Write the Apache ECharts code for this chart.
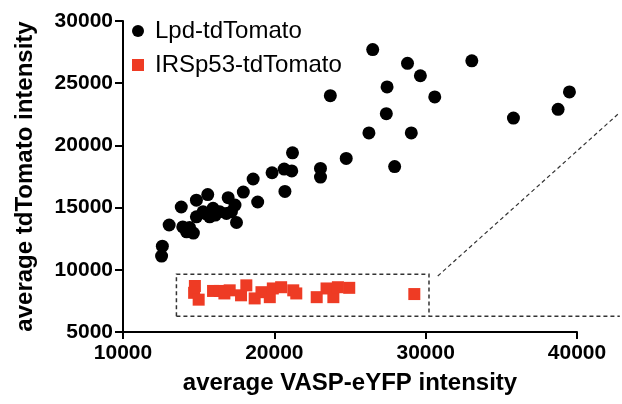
<!DOCTYPE html>
<html lang="en">
  <head>
    <meta charset="UTF-8" />
    <title>VASP vs tdTomato</title>
    <style>
      html, body { margin: 0; padding: 0; background: #fff; }
      #main { width: 622px; height: 404px; }
    </style>
  </head>
  <body>
    <div id="main"></div>
    <script src="https://cdn.jsdelivr.net/npm/echarts@6/dist/echarts.min.js"></script>
    <script>
      // [VASP-eYFP, tdTomato]
      const lpdPoints = [
        [26500, 27700], [28800, 26600], [29650, 25600], [33050, 26800], [27450, 24700],
        [23700, 24000], [30600, 23900], [27400, 22550], [39500, 24300], [38750, 22900],
        [35800, 22200], [26250, 21000], [29050, 21000], [24750, 18950], [23050, 18150],
        [23050, 17450], [27950, 18300], [21200, 19400], [20650, 18100], [21150, 17950],
        [19850, 17800], [18600, 17300], [17950, 16250], [20700, 16300], [18900, 15450],
        [15600, 16050], [14850, 15600], [16950, 15800], [17400, 15200], [13850, 15050],
        [17500, 13800], [13050, 13600], [14850, 14260], [15290, 14665], [15950, 14940],
        [16390, 14665], [16835, 14535], [15730, 14260], [17165, 14665], [16100, 14400],
        [15500, 14500], [13950, 13450], [14200, 13050], [14650, 12950], [14400, 13400],
        [12600, 11900], [12550, 11100]
      ];
      const irspPoints = [
        [14750, 8700], [14700, 8150], [15000, 7600], [15950, 8300], [16400, 8300],
        [17050, 8350], [16700, 8100], [18150, 8750], [17800, 7950], [18700, 7700],
        [19150, 8200], [19700, 7800], [19900, 8500], [20450, 8600], [21250, 8350],
        [21450, 8100], [22800, 7800], [23450, 8500], [23900, 7800], [24200, 8600],
        [24950, 8550], [29250, 8050]
      ];
      // zoom-box annotation, in data units (runs past the x axis end)
      const boxLine = [[13530, 6270], [13530, 9650], [30220, 9650], [30220, 6270]];
      const baseLine = [[13530, 6270], [42830, 6270]];
      const diagLine = [[30800, 9500], [42780, 22590]];

      const xTicks = { min: 10000, max: 40000, interval: 10000 };
      const yTicks = { min: 5000, max: 30000, interval: 5000 };

      const chart = echarts.init(document.getElementById("main"));
      const font = "'Liberation Sans', Arial, sans-serif";

      chart.setOption({
        animation: false,
        grid: { left: 123, right: 45, top: 21, bottom: 72 },
        legend: {
          data: [
            { name: "Lpd-tdTomato", icon: "circle" },
            { name: "IRSp53-tdTomato", icon: "rect" }
          ],
          orient: "vertical",
          left: 127,
          top: 14,
          itemWidth: 12,
          itemHeight: 12,
          itemGap: 10,
          textStyle: { fontFamily: font, fontSize: 24, color: "#000", padding: [0, 0, 0, 6] }
        },
        xAxis: {
          type: "value",
          min: xTicks.min,
          max: xTicks.max,
          interval: xTicks.interval,
          name: "average VASP-eYFP intensity",
          nameLocation: "middle",
          nameGap: 39,
          nameTextStyle: { fontFamily: font, fontSize: 24, fontWeight: "bold", color: "#000" },
          axisLine: { onZero: false, lineStyle: { color: "#000", width: 2 } },
          axisTick: { length: 7, lineStyle: { color: "#000", width: 2 } },
          axisLabel: {
            margin: 11, fontFamily: font, fontSize: 21, fontWeight: "bold", color: "#000",
            formatter: (v) => String(v)
          },
          splitLine: { show: false }
        },
        yAxis: {
          type: "value",
          min: yTicks.min,
          max: yTicks.max,
          interval: yTicks.interval,
          name: "average tdTomato intensity",
          nameLocation: "middle",
          nameGap: 86,
          nameTextStyle: { fontFamily: font, fontSize: 24, fontWeight: "bold", color: "#000" },
          axisLine: { onZero: false, lineStyle: { color: "#000", width: 2 } },
          axisTick: { length: 8, lineStyle: { color: "#000", width: 2 } },
          axisLabel: {
            margin: 10, fontFamily: font, fontSize: 21, fontWeight: "bold", color: "#000",
            formatter: (v) => String(v)
          },
          splitLine: { show: false }
        },
        series: [
          {
            name: "Lpd-tdTomato",
            type: "scatter",
            data: lpdPoints,
            symbol: "circle",
            symbolSize: 13,
            itemStyle: { color: "#000", opacity: 1 },
            z: 3
          },
          {
            name: "IRSp53-tdTomato",
            type: "scatter",
            data: irspPoints,
            symbol: "rect",
            symbolSize: 12,
            itemStyle: { color: "#EE3B24", opacity: 1 },
            z: 3
          }
        ]
      });

      // dashed annotation goes past the grid, so draw it as graphic through the grid scales
      const toPx = (pts) => pts.map((p) => chart.convertToPixel({ gridIndex: 0 }, p));
      const dashedLine = (pts, w) => ({
        type: "polyline",
        silent: true,
        z: 1,
        shape: { points: toPx(pts) },
        style: { stroke: "#333", lineWidth: w, lineDash: [4, 3], fill: null }
      });
      chart.setOption({
        graphic: [
          dashedLine(boxLine, 1.5),
          dashedLine(baseLine, 1.5),
          dashedLine(diagLine, 1.2)
        ]
      });
    </script>
  </body>
</html>
